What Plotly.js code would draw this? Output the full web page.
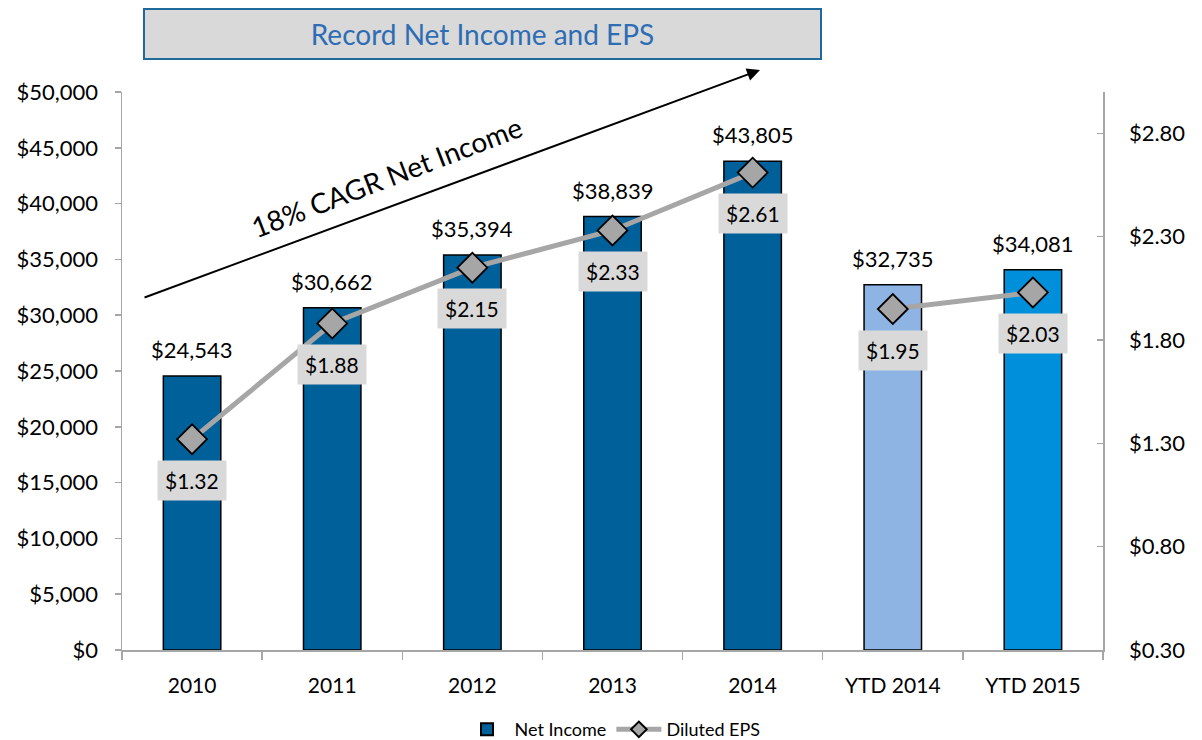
<!DOCTYPE html>
<html>
<head>
<meta charset="utf-8">
<script src="https://cdn.plot.ly/plotly-3.0.1.min.js"></script>
<style>
  html, body { margin: 0; padding: 0; background: #ffffff; }
  #chart { width: 1202px; height: 740px; }
</style>
</head>
<body>
<div id="chart"></div>
<script>
// ---- data ----
const categories = ['2010', '2011', '2012', '2013', '2014', 'YTD 2014', 'YTD 2015'];
const netIncome = [24543, 30662, 35394, 38839, 43805, 32735, 34081];
const dilutedEPS = [1.32, 1.88, 2.15, 2.33, 2.61, 1.95, 2.03];
const netIncomeLabels = ['$24,543', '$30,662', '$35,394', '$38,839', '$43,805', '$32,735', '$34,081'];
const epsLabels = ['$1.32', '$1.88', '$2.15', '$2.33', '$2.61', '$1.95', '$2.03'];
const fullYearCount = 5;

const barColors = ['#00609A', '#00609A', '#00609A', '#00609A', '#00609A', '#8DB4E2', '#0090DB'];
const FONT = 'Lato, "Open Sans", "Noto Sans", sans-serif';

const barTrace = {
  type: 'bar',
  name: 'Net Income',
  x: categories,
  y: netIncome,
  width: 0.41,
  marker: { color: barColors, line: { color: '#000000', width: 1.5 } },
  yaxis: 'y',
  hoverinfo: 'skip'
};

const lineStyle = { color: '#A6A6A6', width: 5 };
const markerStyle = { symbol: 'diamond', size: 23, color: '#A6A6A6', line: { color: '#000000', width: 1.8 } };

const epsFull = {
  type: 'scatter',
  mode: 'lines+markers',
  name: 'Diluted EPS',
  x: categories.slice(0, fullYearCount),
  y: dilutedEPS.slice(0, fullYearCount),
  yaxis: 'y2',
  line: lineStyle,
  marker: markerStyle,
  hoverinfo: 'skip'
};
const epsYTD = {
  type: 'scatter',
  mode: 'lines+markers',
  name: 'Diluted EPS',
  showlegend: false,
  x: categories.slice(fullYearCount),
  y: dilutedEPS.slice(fullYearCount),
  yaxis: 'y2',
  line: lineStyle,
  marker: markerStyle,
  hoverinfo: 'skip'
};

const annotations = [];
categories.forEach((c, i) => {
  // category axis: annotations use the category index
  annotations.push({
    x: i, y: netIncome[i], xref: 'x', yref: 'y',
    text: netIncomeLabels[i], showarrow: false,
    yanchor: 'bottom', yshift: 11,
    font: { family: FONT, size: 22, color: '#000000' }
  });
  annotations.push({
    x: i, y: dilutedEPS[i], xref: 'x', yref: 'y2',
    text: epsLabels[i], showarrow: false,
    yanchor: 'middle', yshift: -41,
    bgcolor: '#D9D9D9', borderpad: 7,
    font: { family: FONT, size: 21, color: '#000000' }
  });
});

// title box
annotations.push({
  xref: 'paper', yref: 'paper', x: 0.0214, y: 1.1505,
  xanchor: 'left', yanchor: 'top',
  text: 'Record Net Income and EPS', showarrow: false,
  width: 675, height: 48, align: 'center', valign: 'middle',
  bgcolor: '#D9D9D9', bordercolor: '#1F6A9A', borderwidth: 2, borderpad: 0,
  font: { family: FONT, size: 28, color: '#2E6DB4' }
});
// arrow
annotations.push({
  xref: 'paper', yref: 'paper', x: 0.6504, y: 1.0394,
  ax: -617, ay: 228, text: '', showarrow: true,
  arrowhead: 2, arrowsize: 1.3, arrowwidth: 2, arrowcolor: '#000000'
});
// CAGR text
annotations.push({
  xref: 'paper', yref: 'paper', x: (386 - 122) / 981, y: (650 - 177) / 558,
  xanchor: 'center', yanchor: 'middle',
  text: '18% CAGR Net Income', showarrow: false, textangle: -21,
  font: { family: FONT, size: 28, color: '#000000' }
});

const layout = {
  width: 1202, height: 740,
  margin: { l: 122, r: 99, t: 92, b: 90, autoexpand: false },
  paper_bgcolor: '#ffffff', plot_bgcolor: '#ffffff',
  font: { family: FONT, size: 21, color: '#000000' },
  showlegend: true,
  legend: {
    orientation: 'h', x: 0.5, xanchor: 'center',
    yref: 'container', y: 0.014, yanchor: 'middle',
    itemsizing: 'constant', itemwidth: 45,
    font: { family: FONT, size: 18, color: '#000000' }
  },
  xaxis: {
    type: 'category', range: [-0.5, categories.length - 0.5], automargin: false,
    showline: true, linecolor: '#A6A6A6', linewidth: 1.5,
    ticks: 'outside', tickson: 'boundaries', ticklen: 8, tickcolor: '#A6A6A6', tickwidth: 1.5,
    ticklabelstandoff: 16, tickangle: 0,
    showgrid: false, zeroline: false,
    tickfont: { family: FONT, size: 21, color: '#000000' }
  },
  yaxis: {
    range: [0, 50000], dtick: 5000, tick0: 0, automargin: false,
    tickprefix: '$', tickformat: ',d',
    showline: true, linecolor: '#A6A6A6', linewidth: 1.5,
    ticks: 'outside', ticklen: 6, tickcolor: '#A6A6A6', tickwidth: 1.5,
    ticklabelstandoff: 12,
    showgrid: false, zeroline: false,
    tickfont: { family: FONT, size: 22, color: '#000000' }
  },
  yaxis2: {
    overlaying: 'y', side: 'right', automargin: false,
    range: [0.3, 3.0], dtick: 0.5, tick0: 0.3,
    tickprefix: '$', tickformat: '.2f',
    showline: true, linecolor: '#A6A6A6', linewidth: 1.5,
    ticks: 'inside', ticklen: 6, tickcolor: '#A6A6A6', tickwidth: 1.5,
    ticklabelstandoff: 20,
    showgrid: false, zeroline: false,
    tickfont: { family: FONT, size: 22, color: '#000000' }
  },
  annotations: annotations
};

Plotly.newPlot('chart', [barTrace, epsFull, epsYTD], layout, { displayModeBar: false, staticPlot: true });
</script>
</body>
</html>
